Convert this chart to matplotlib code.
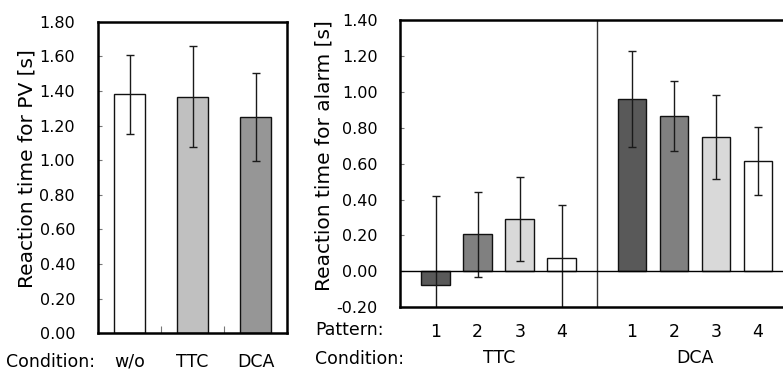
import numpy as np
import matplotlib
matplotlib.use("Agg")
from matplotlib import pyplot as plt

# left panel: reaction time for PV
conditions = ["w/o", "TTC", "DCA"]
pv_mean = [1.38, 1.367, 1.25]
pv_err = [0.23, 0.29, 0.255]
pv_colors = ["#ffffff", "#c0c0c0", "#969696"]

# right panel: reaction time for alarm
patterns = ["1", "2", "3", "4"]
ttc_mean = [-0.075, 0.207, 0.29, 0.074]
ttc_err = [0.495, 0.236, 0.233, 0.296]
dca_mean = [0.96, 0.863, 0.747, 0.614]
dca_err = [0.27, 0.195, 0.235, 0.19]
pattern_colors = ["#595959", "#808080", "#d9d9d9", "#ffffff"]

plt.rcParams["font.family"] = "DejaVu Sans"
plt.rcParams["font.size"] = 11.5

W, H = 783, 373
fig = plt.figure(figsize=(W / 100, H / 100), dpi=100)

def px_axes(x0, x1, ytop, ybot):
    return fig.add_axes([x0 / W, (H - ybot) / H, (x1 - x0) / W, (ybot - ytop) / H])

ekw = dict(ecolor="#1a1a1a", elinewidth=1.0, capsize=2.6, capthick=1.0)
lab_size = 12.5

# ---- left
ax1 = px_axes(98, 287, 21.7, 333.3)
x = np.arange(len(conditions))
ax1.bar(x, pv_mean, width=0.5, color=pv_colors, edgecolor="#111111", linewidth=1.0,
        yerr=pv_err, error_kw=ekw, zorder=2)
ax1.set_xlim(-0.5, 2.5)
ax1.set_ylim(0, 1.8)
ax1.set_yticks(np.arange(0, 1.81, 0.2))
ax1.set_yticklabels(["%.2f" % v for v in np.arange(0, 1.81, 0.2)])
ax1.set_xticks([0.5, 1.5])
ax1.set_xticklabels([])
ax1.tick_params(axis="x", direction="in", length=5, width=0.8, color="#777777")
ax1.tick_params(axis="y", direction="in", length=3, width=0.8, color="#777777", pad=16.5)
for s in ax1.spines.values():
    s.set_linewidth(1.8)
ax1.set_ylabel("Reaction time for PV [s]", fontsize=14.5)
ax1.yaxis.set_label_coords(-0.328, 0.53)
for i, c in enumerate(conditions):
    ax1.text(i, -0.092, c, transform=ax1.get_xaxis_transform(), ha="center",
             va="center", fontsize=lab_size)
ax1.text(-0.55, -0.092, "Condition:", transform=ax1.get_xaxis_transform(),
         ha="right", va="center", fontsize=lab_size)

# ---- right
step = 42.0
ax2 = px_axes(400, 800, 20, 307.3)
x_ttc = np.arange(4)
x_dca = x_ttc + 4.67
ax2.bar(x_ttc, ttc_mean, width=0.68, color=pattern_colors, edgecolor="#111111",
        linewidth=1.0, yerr=ttc_err, error_kw=ekw, zorder=2)
ax2.bar(x_dca, dca_mean, width=0.68, color=pattern_colors, edgecolor="#111111",
        linewidth=1.0, yerr=dca_err, error_kw=ekw, zorder=2)
ax2.set_xlim((400 - 435.7) / step, (800 - 435.7) / step)
ax2.set_ylim(-0.2, 1.4)
yt = np.arange(-0.2, 1.41, 0.2)
ax2.set_yticks(yt)
ax2.set_yticklabels(["%.2f" % (v + 0.0) for v in np.round(yt, 2)])
ax2.tick_params(axis="y", direction="in", length=3, width=0.8, color="#777777", pad=16)
ax2.set_xticks(list(x_ttc) + list(x_dca))
ax2.set_xticklabels(patterns + patterns, fontsize=lab_size)
ax2.tick_params(axis="x", length=0, pad=11)
ax2.axhline(0, color="black", linewidth=1.0, zorder=3)
ax2.axvline(3.83, color="#333333", linewidth=1.0, zorder=1)
for s in ax2.spines.values():
    s.set_linewidth(1.8)
ax2.set_ylabel("Reaction time for alarm [s]", fontsize=14.5)
ax2.yaxis.set_label_coords(-0.1675, 0.527)
tr = ax2.get_xaxis_transform()
ax2.text(x_ttc.mean(), -0.176, "TTC", transform=tr, ha="center", va="center",
         fontsize=lab_size)
ax2.text(x_dca.mean(), -0.176, "DCA", transform=tr, ha="center", va="center",
         fontsize=lab_size)
ax2.text(315 / W, (H - 330) / H, "Pattern:", transform=fig.transFigure,
         ha="left", va="center", fontsize=lab_size)
ax2.text(315 / W, (H - 359) / H, "Condition:", transform=fig.transFigure,
         ha="left", va="center", fontsize=lab_size)

fig.savefig("out.png", dpi=100)
